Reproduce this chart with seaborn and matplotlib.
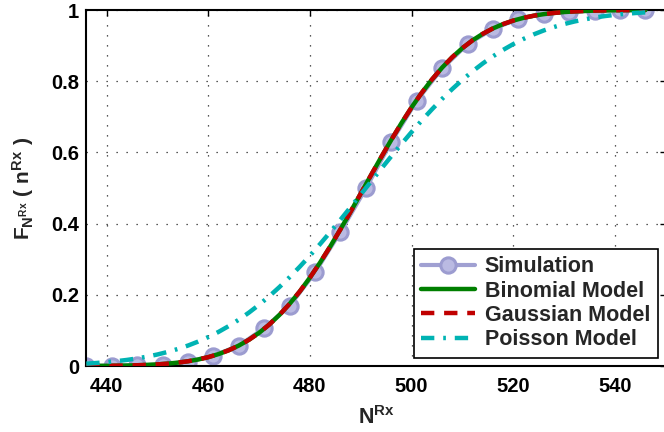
import numpy as np
import pandas as pd
import matplotlib
matplotlib.use("Agg")
import matplotlib.pyplot as plt
import seaborn as sns

# ---------------- data ----------------
sim_x = [436, 441, 446, 451, 456, 461, 466, 471, 476, 481, 486, 491,
         496, 501, 506, 511, 516, 521, 526, 531, 536, 541, 546]
sim_y = [0.000, 0.001, 0.002, 0.004, 0.012, 0.029, 0.057, 0.106, 0.169,
         0.263, 0.377, 0.499, 0.630, 0.745, 0.836, 0.904, 0.947, 0.975,
         0.989, 0.995, 0.998, 0.999, 1.000]

model_x = [436, 438, 440, 442, 444, 446, 448, 450, 452, 454, 456, 458,
           460, 462, 464, 466, 468, 470, 472, 474, 476, 478, 480, 482,
           484, 486, 488, 490, 492, 494, 496, 498, 500, 502, 504, 506,
           508, 510, 512, 514, 516, 518, 520, 522, 524, 526, 528, 530,
           532, 534, 536, 538, 540, 542, 544, 546]

binomial_y = [0.0002, 0.0004, 0.0006, 0.0009, 0.0014, 0.0021, 0.0032, 0.0046,
              0.0067, 0.0095, 0.0133, 0.0183, 0.0249, 0.0334, 0.0441, 0.0574,
              0.0737, 0.0933, 0.1166, 0.1436, 0.1747, 0.2096, 0.2485, 0.2908,
              0.3361, 0.3840, 0.4337, 0.4848, 0.5359, 0.5863, 0.6353, 0.6823,
              0.7267, 0.7676, 0.8048, 0.8382, 0.8676, 0.8932, 0.9150, 0.9332,
              0.9483, 0.9605, 0.9703, 0.9779, 0.9839, 0.9884, 0.9917, 0.9942,
              0.9960, 0.9973, 0.9982, 0.9988, 0.9992, 0.9995, 0.9997, 0.9998]

gaussian_y = [0.0002, 0.0004, 0.0006, 0.0009, 0.0014, 0.0021, 0.0032, 0.0046,
              0.0067, 0.0095, 0.0133, 0.0183, 0.0249, 0.0334, 0.0441, 0.0574,
              0.0737, 0.0933, 0.1166, 0.1436, 0.1747, 0.2096, 0.2485, 0.2908,
              0.3361, 0.3840, 0.4337, 0.4848, 0.5359, 0.5863, 0.6353, 0.6823,
              0.7267, 0.7676, 0.8048, 0.8382, 0.8676, 0.8932, 0.9150, 0.9332,
              0.9483, 0.9605, 0.9703, 0.9779, 0.9839, 0.9884, 0.9917, 0.9942,
              0.9960, 0.9973, 0.9982, 0.9988, 0.9992, 0.9995, 0.9997, 0.9998]

poisson_y = [0.0066, 0.0085, 0.0108, 0.0137, 0.0171, 0.0213, 0.0264, 0.0324,
             0.0395, 0.0478, 0.0574, 0.0686, 0.0813, 0.0957, 0.1120, 0.1301,
             0.1501, 0.1721, 0.1960, 0.2219, 0.2496, 0.2790, 0.3101, 0.3427,
             0.3764, 0.4109, 0.4463, 0.4821, 0.5179, 0.5537, 0.5891, 0.6236,
             0.6573, 0.6899, 0.7210, 0.7504, 0.7781, 0.8040, 0.8279, 0.8499,
             0.8699, 0.8880, 0.9043, 0.9187, 0.9314, 0.9426, 0.9522, 0.9605,
             0.9676, 0.9736, 0.9787, 0.9829, 0.9863, 0.9892, 0.9915, 0.9934]

x_ticks = [440, 460, 480, 500, 520, 540]
y_ticks = [0, 0.2, 0.4, 0.6, 0.8, 1.0]
y_tick_labels = ["0", "0.2", "0.4", "0.6", "0.8", "1"]
labels = ["Simulation", "Binomial Model", "Gaussian Model", "Poisson Model"]

# ---------------- style ----------------
sns.set_theme(style="white")
plt.rcParams["font.family"] = ["Liberation Sans", "DejaVu Sans"]
plt.rcParams["font.weight"] = "bold"
plt.rcParams["mathtext.fontset"] = "custom"
plt.rcParams["mathtext.rm"] = "Liberation Sans:bold"
plt.rcParams["mathtext.bf"] = "Liberation Sans:bold"
plt.rcParams["mathtext.it"] = "Liberation Sans:bold"
plt.rcParams["mathtext.default"] = "bf"

fig = plt.figure(figsize=(6.64, 4.32), dpi=100)
ax = fig.add_axes([86.3 / 664, 66 / 432, 579.5 / 664, 356 / 432])

sim_df = pd.DataFrame({"x": sim_x, "y": sim_y})
mod_df = pd.DataFrame({"x": model_x, "bin": binomial_y,
                       "gau": gaussian_y, "poi": poisson_y})

sns.lineplot(data=sim_df, x="x", y="y", ax=ax, color="#a0a0d2",
             linewidth=3, marker="o", markersize=11,
             markerfacecolor="#babae2", markeredgecolor="#9c9cd0",
             markeredgewidth=2.2, label=labels[0], zorder=2,
             estimator=None, sort=False)
sns.lineplot(data=mod_df, x="x", y="bin", ax=ax, color="#007f00",
             linewidth=3.2, label=labels[1], zorder=3,
             estimator=None, sort=False)
sns.lineplot(data=mod_df, x="x", y="gau", ax=ax, color="#c00000",
             linewidth=3.2, linestyle=(0, (3.0, 2.2)), label=labels[2],
             zorder=4, estimator=None, sort=False)
sns.lineplot(data=mod_df, x="x", y="poi", ax=ax, color="#00b3b3",
             linewidth=3.2, linestyle=(0, (3.0, 2.0, 0.6, 2.0)),
             label=labels[3], zorder=5, estimator=None, sort=False)

ax.set_xlim(436, 550)
ax.set_ylim(0, 1)
ax.set_xticks(x_ticks)
ax.set_yticks(y_ticks)
ax.set_yticklabels(y_tick_labels)
ax.tick_params(axis="both", which="both", direction="in", length=4,
               width=1, top=True, right=True, labelsize=14.5, colors="black")
ax.tick_params(axis="x", pad=8)
ax.tick_params(axis="y", pad=5)
for lab in ax.get_xticklabels() + ax.get_yticklabels():
    lab.set_fontweight("bold")

ax.grid(True, linestyle=(0, (1, 7)), color="#222222", linewidth=0.9)
for s in ax.spines.values():
    s.set_color("black")
    s.set_linewidth(1.5)

ax.set_xlabel(r"$\mathbf{N^{Rx}}$", fontsize=15.5, labelpad=7)
ax.set_ylabel(r"$\mathbf{F_{N^{Rx}}\ (\ n^{Rx}\ )}$", fontsize=15, labelpad=11)

leg = ax.legend(loc="lower right", bbox_to_anchor=(657.7 / 664, 74.3 / 432),
                bbox_transform=fig.transFigure, borderaxespad=0,
                prop={"weight": "bold", "size": 15.5}, frameon=True,
                fancybox=False, framealpha=1, edgecolor="black",
                handlelength=2.5, handletextpad=0.45, labelspacing=0.15,
                borderpad=0.35)
leg.get_frame().set_linewidth(1.2)

fig.savefig("out.png", dpi=100)
